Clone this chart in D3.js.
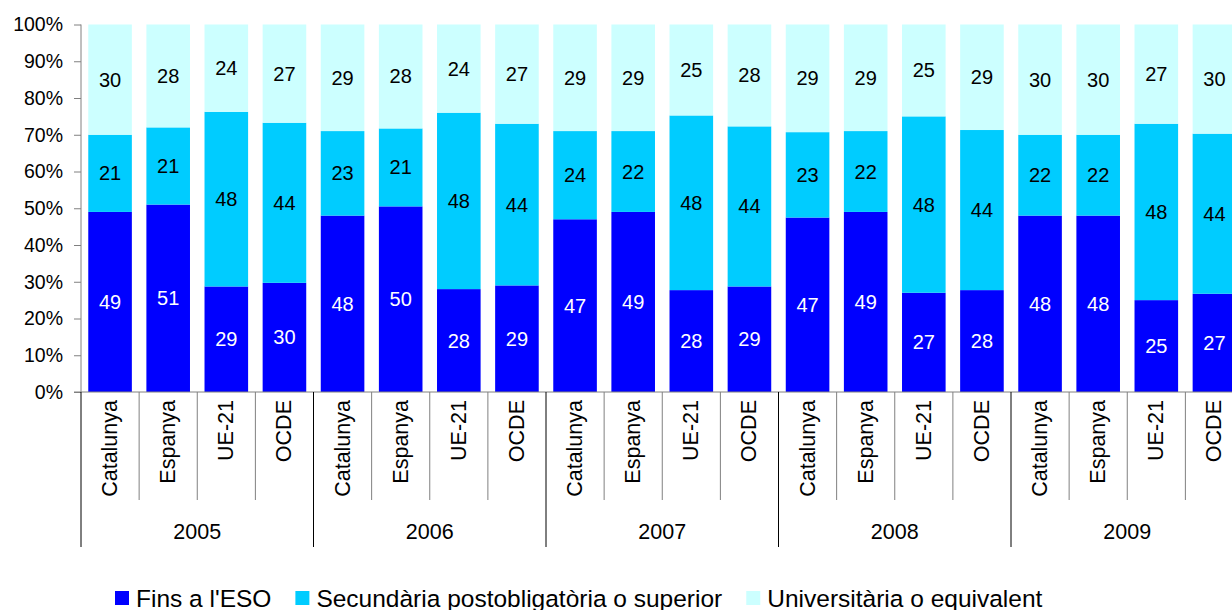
<!DOCTYPE html>
<html>
<head>
<meta charset="utf-8">
<script src="https://cdn.jsdelivr.net/npm/d3@7"></script>
<style>
  body { margin: 0; background: #fff; }
  svg { display: block; font-family: "Liberation Sans", Arial, sans-serif; }
</style>
</head>
<body>
<svg id="chart" width="1232" height="610"></svg>
<script>
const years = ["2005", "2006", "2007", "2008", "2009"];
const regions = ["Catalunya", "Espanya", "UE-21", "OCDE"];
const seriesNames = ["Fins a l'ESO", "Secundària postobligatòria o superior", "Universitària o equivalent"];
// one value per region, year after year
const finsESO      = [49, 51, 29, 30,  48, 50, 28, 29,  47, 49, 28, 29,  47, 49, 27, 28,  48, 48, 25, 27];
const secundaria   = [21, 21, 48, 44,  23, 21, 48, 44,  24, 22, 48, 44,  23, 22, 48, 44,  22, 22, 48, 44];
const universitaria = [30, 28, 24, 27,  29, 28, 24, 27,  29, 29, 25, 28,  29, 29, 25, 29,  30, 30, 27, 30];
const yTicks = [0, 0.1, 0.2, 0.3, 0.4, 0.5, 0.6, 0.7, 0.8, 0.9, 1];

const colors = ["#0000ff", "#00ccff", "#ccffff"];
const labelColors = ["#fff", "#000", "#000"];

const rows = [];
years.forEach((yr, yi) => {
    regions.forEach((rg, ri) => {
        const i = yi * regions.length + ri;
        rows.push({key: yr + "|" + rg, year: yr, region: rg, s0: finsESO[i], s1: secundaria[i], s2: universitaria[i]});
    });
});

const svg = d3.select("#chart");
const left = 81, baseY = 392, topY = 24.5;
const step = 58.125;
const right = left + step * rows.length;

const x = d3.scaleBand()
    .domain(rows.map(d => d.key))
    .range([left, right])
    .paddingInner(0.25)
    .paddingOuter(0.125);

const y = d3.scaleLinear().domain([0, 1]).range([baseY, topY]);

const stack = d3.stack().keys(["s0", "s1", "s2"]).offset(d3.stackOffsetExpand);
const series = stack(rows);

// bars
const g = svg.append("g");
series.forEach((s, si) => {
    g.selectAll(null)
        .data(s)
        .join("rect")
        .attr("x", d => x(d.data.key))
        .attr("y", d => y(d[1]))
        .attr("width", x.bandwidth())
        .attr("height", d => y(d[0]) - y(d[1]))
        .attr("fill", colors[si]);
});

// data labels
series.forEach((s, si) => {
    g.selectAll(null)
        .data(s)
        .join("text")
        .attr("x", d => x(d.data.key) + x.bandwidth() / 2)
        .attr("y", d => (y(d[0]) + y(d[1])) / 2)
        .attr("text-anchor", "middle")
        .attr("dominant-baseline", "central")
        .attr("font-size", 20)
        .attr("fill", labelColors[si])
        .text(d => d.data["s" + si]);
});

// y axis
const yAxis = svg.append("g")
    .attr("transform", `translate(${left},0)`)
    .call(d3.axisLeft(y).tickValues(yTicks).tickFormat(d3.format(".0%")).tickSize(7).tickPadding(11));
yAxis.select(".domain").attr("stroke", "#808080").attr("d", `M0,${topY}V${baseY}`);
yAxis.selectAll(".tick line").attr("stroke", "#808080");
yAxis.selectAll(".tick text")
    .attr("font-size", 19.5)
    .attr("font-family", "Liberation Sans, Arial, sans-serif")
    .attr("fill", "#000");

// baseline
svg.append("line")
    .attr("x1", left - 7).attr("x2", right)
    .attr("y1", baseY).attr("y2", baseY)
    .attr("stroke", "#808080");

// category separators and labels
const half = x.step() * x.paddingInner() / 2;
rows.forEach((d, i) => {
    const x0 = x(d.key) - half;
    const isYear = i % regions.length === 0;
    svg.append("line")
        .attr("x1", x0).attr("x2", x0)
        .attr("y1", baseY).attr("y2", isYear ? 547 : 500)
        .attr("stroke", isYear ? "#000" : "#808080");
    const cx = x(d.key) + x.bandwidth() / 2;
    svg.append("text")
        .attr("transform", `translate(${cx},400) rotate(-90)`)
        .attr("text-anchor", "end")
        .attr("dominant-baseline", "central")
        .attr("font-size", 21.5)
        .text(d.region);
});

// year labels
years.forEach((yr, yi) => {
    const first = rows[yi * regions.length].key;
    const x0 = x(first) - half;
    svg.append("text")
        .attr("x", x0 + x.step() * regions.length / 2)
        .attr("y", 532)
        .attr("text-anchor", "middle")
        .attr("dominant-baseline", "central")
        .attr("font-size", 21.5)
        .text(yr);
});

// legend
const legend = svg.append("g").attr("transform", "translate(115,598)");
let lx = 0;
seriesNames.forEach((name, i) => {
    legend.append("rect")
        .attr("x", lx).attr("y", -7)
        .attr("width", 14).attr("height", 14)
        .attr("fill", colors[i]);
    const t = legend.append("text")
        .attr("x", lx + 21)
        .attr("y", 0)
        .attr("dominant-baseline", "central")
        .attr("font-size", 24.5)
        .text(name);
    lx += 21 + t.node().getComputedTextLength() + 24;
});
</script>
</body>
</html>
